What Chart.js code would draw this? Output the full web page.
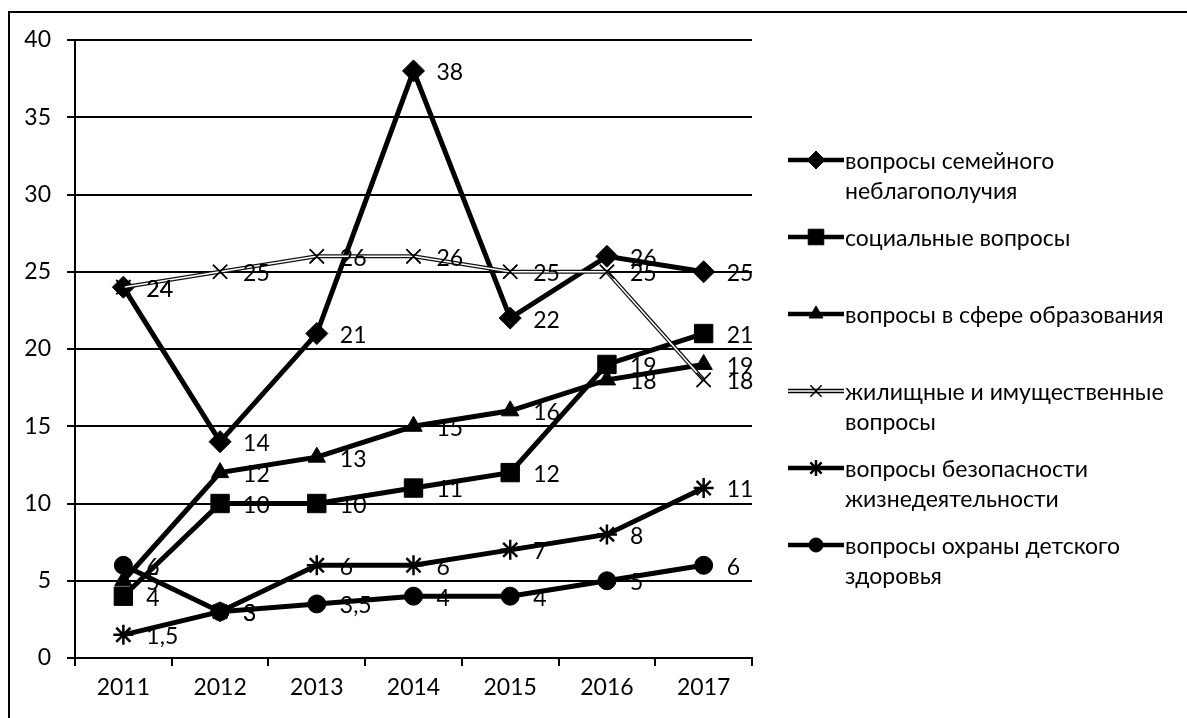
<!DOCTYPE html>
<html lang="ru">
<head>
<meta charset="utf-8">
<title>Обращения по годам</title>
<script src="https://cdn.jsdelivr.net/npm/chart.js@4"></script>
<style>
    html, body { margin: 0; padding: 0; background: #fff; }
    #wrap { position: relative; width: 1187px; height: 718px; overflow: hidden; }
    #frame {
        position: absolute; left: 8px; top: 11px; right: -4px; bottom: -4px;
        border-top: 2px solid #000; border-left: 2px solid #000;
    }
    #grafica { position: absolute; left: 0; top: 0; }
    #leyenda {
        position: absolute; left: 788px; top: 145px;
        font-family: Lato, "Open Sans", sans-serif; font-size: 23px; color: #000;
    }
    .item { display: flex; align-items: flex-start; height: 77px; }
    .item canvas { flex: none; margin-right: 1px; }
    .item span { line-height: 30px; white-space: nowrap; }
</style>
</head>
<body>
<div id="wrap">
    <div id="frame"></div>
    <canvas id="grafica" width="1187" height="718"></canvas>
    <div id="leyenda"></div>
</div>

<script>
/* ── Datos ── */
const anos = ['2011', '2012', '2013', '2014', '2015', '2016', '2017'];

const semeynoe     = [24, 14, 21, 38, 22, 26, 25];
const socialnye    = [4, 10, 10, 11, 12, 19, 21];
const obrazovanie  = [5, 12, 13, 15, 16, 18, 19];
const zhilishchnye = [24, 25, 26, 26, 25, 25, 18];
const bezopasnost  = [1.5, 3, 6, 6, 7, 8, 11];
const zdorovye     = [6, 3, 3.5, 4, 4, 5, 6];

const nombres = [
    ['вопросы семейного', 'неблагополучия'],
    ['социальные вопросы'],
    ['вопросы в сфере образования'],
    ['жилищные и имущественные', 'вопросы'],
    ['вопросы безопасности', 'жизнедеятельности'],
    ['вопросы охраны детского', 'здоровья']
];

const valoresY = [0, 5, 10, 15, 20, 25, 30, 35, 40];

const FUENTE = 'Lato, "Open Sans", sans-serif';

/* ── Estilo de cada serie ── */
const estilos = [
    { pointStyle: 'rectRot',  radius: 11, bw: 1 },
    { pointStyle: 'rect',     radius: 13, bw: 1 },
    { pointStyle: 'triangle', radius: 10, bw: 1 },
    { pointStyle: 'crossRot', radius: 10, bw: 1.5, doble: true },
    { pointStyle: 'star',     radius: 10, bw: 2.5 },
    { pointStyle: 'circle',   radius: 9,  bw: 1 }
];

const series = [semeynoe, socialnye, obrazovanie, zhilishchnye, bezopasnost, zdorovye];

const datasets = series.map((valores, i) => ({
    label: nombres[i].join(' '),
    data: valores,
    borderColor: estilos[i].doble ? '#111' : '#000',
    borderWidth: estilos[i].doble ? 4 : 5,
    backgroundColor: '#000',
    pointBackgroundColor: '#000',
    pointBorderColor: '#000',
    pointStyle: estilos[i].pointStyle,
    pointRadius: estilos[i].radius,
    pointBorderWidth: estilos[i].bw,
    tension: 0,
    fill: false,
    order: series.length - i
}));

/* ── Linea doble (jilishchnye) ── */
const lineaDoble = {
    id: 'lineaDoble',
    afterDatasetDraw(chart, args) {
        const i = args.index;
        if (!estilos[i].doble) return;
        const pts = args.meta.data;
        const ctx = chart.ctx;
        ctx.save();
        ctx.strokeStyle = '#fff';
        ctx.lineWidth = 1.5;
        ctx.beginPath();
        pts.forEach((p, k) => k ? ctx.lineTo(p.x, p.y) : ctx.moveTo(p.x, p.y));
        ctx.stroke();
        ctx.restore();
        pts.forEach(p => p.draw(ctx, chart.chartArea));
    }
};

/* ── Etiquetas de valores ── */
const etiquetas = {
    id: 'etiquetas',
    afterDatasetsDraw(chart) {
        const ctx = chart.ctx;
        ctx.save();
        ctx.font = '23px ' + FUENTE;
        ctx.fillStyle = '#000';
        ctx.textAlign = 'left';
        ctx.textBaseline = 'middle';
        chart.data.datasets.forEach((ds, i) => {
            chart.getDatasetMeta(i).data.forEach((p, k) => {
                const txt = String(ds.data[k]).replace('.', ',');
                ctx.fillText(txt, p.x + 23, p.y + 2);
            });
        });
        ctx.restore();
    }
};

new Chart(document.getElementById('grafica'), {
    type: 'line',
    data: { labels: anos, datasets: datasets },
    options: {
        responsive: false,
        animation: false,
        layout: { padding: { top: 40, right: 435, bottom: 0, left: 0 } },
        plugins: {
            legend: { display: false },
            tooltip: { enabled: false }
        },
        scales: {
            x: {
                type: 'category',
                offset: true,
                grid: {
                    offset: true,
                    drawOnChartArea: false,
                    drawTicks: true,
                    tickLength: 8,
                    color: '#000',
                    lineWidth: 2
                },
                border: { color: '#000', width: 2 },
                ticks: { color: '#000', font: { family: FUENTE, size: 23 }, padding: 8 },
                afterFit: s => { s.height = 60; }
            },
            y: {
                min: 0,
                max: 40,
                afterBuildTicks: s => { s.ticks = valoresY.map(v => ({ value: v })); },
                grid: { color: '#000', lineWidth: 2, tickLength: 8 },
                border: { color: '#000', width: 2 },
                ticks: { color: '#000', font: { family: FUENTE, size: 23 }, padding: 16 },
                afterFit: s => { s.width = 75; }
            }
        }
    },
    plugins: [lineaDoble, etiquetas]
});

/* ── Leyenda HTML ── */
function dibujarLeyenda() {
    const cont = document.getElementById('leyenda');
    nombres.forEach((lineas, i) => {
        const item = document.createElement('div');
        item.className = 'item';
        const c = document.createElement('canvas');
        c.width = 56; c.height = 30;
        const ctx = c.getContext('2d');
        ctx.strokeStyle = '#000';
        ctx.lineWidth = 4.5;
        ctx.beginPath(); ctx.moveTo(0, 15); ctx.lineTo(56, 15); ctx.stroke();
        if (estilos[i].doble) {
            ctx.strokeStyle = '#fff'; ctx.lineWidth = 1.5;
            ctx.beginPath(); ctx.moveTo(0, 15); ctx.lineTo(56, 15); ctx.stroke();
        }
        ctx.fillStyle = '#000';
        ctx.strokeStyle = '#000';
        ctx.lineWidth = estilos[i].bw;
        Chart.helpers.drawPoint(ctx, {
            pointStyle: estilos[i].pointStyle,
            radius: estilos[i].radius - 2,
            borderWidth: estilos[i].bw,
            rotation: 0
        }, 28, 15);
        const txt = document.createElement('span');
        txt.innerHTML = lineas.join('<br>');
        item.appendChild(c);
        item.appendChild(txt);
        cont.appendChild(item);
    });
}
dibujarLeyenda();
</script>
</body>
</html>
